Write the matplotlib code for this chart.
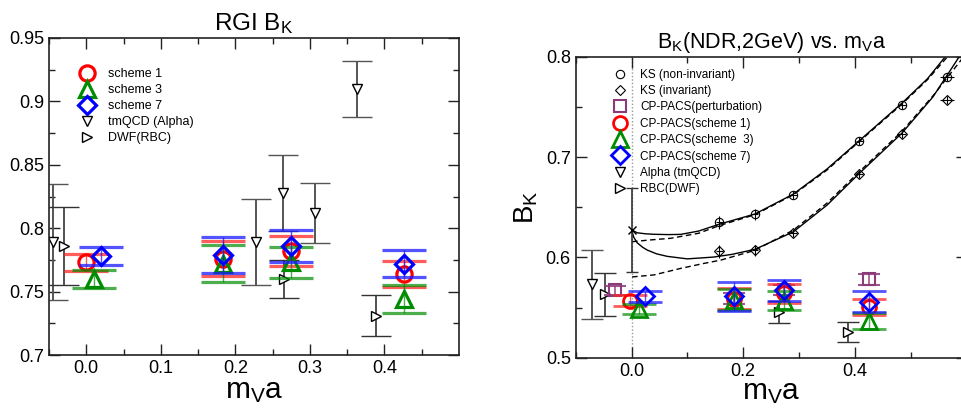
import matplotlib
matplotlib.use("Agg")
import matplotlib.pyplot as plt
from matplotlib.lines import Line2D
from matplotlib.ticker import FormatStrFormatter

plt.rcParams['font.family'] = ['Liberation Sans', 'DejaVu Sans']
plt.rcParams['mathtext.fontset'] = 'custom'
plt.rcParams['mathtext.rm'] = 'Liberation Sans'
plt.rcParams['mathtext.it'] = 'Liberation Sans'

# ---------------- Left panel data (RGI B_K) ----------------
s1_x = [0.000, 0.183, 0.275, 0.426]
s1_y = [0.773, 0.776, 0.782, 0.764]
s1_e = [0.007, 0.014, 0.012, 0.010]
s3_x = [0.010, 0.183, 0.275, 0.426]
s3_y = [0.760, 0.772, 0.773, 0.744]
s3_e = [0.007, 0.0145, 0.0125, 0.011]
s7_x = [0.020, 0.183, 0.275, 0.426]
s7_y = [0.778, 0.779, 0.786, 0.772]
s7_e = [0.007, 0.014, 0.0125, 0.0105]
tm_x = [-0.045, 0.228, 0.264, 0.307, 0.363]
tm_y = [0.789, 0.789, 0.828, 0.812, 0.910]
tm_e = [0.046, 0.034, 0.030, 0.024, 0.022]
dwf_x = [-0.030, 0.265, 0.388]
dwf_y = [0.786, 0.760, 0.731]
dwf_e = [0.031, 0.015, 0.016]

# ---------------- Right panel data (B_K NDR 2GeV) ----------------
ks_x = [0.157, 0.221, 0.290, 0.408, 0.484, 0.565]
ks_ni_y = [0.635, 0.643, 0.662, 0.7155, 0.752, 0.780]
ks_inv_y = [0.606, 0.607, 0.6245, 0.683, 0.723, 0.757]
ks_yerr = [0.0066, 0.0053, 0.004, 0.004, 0.004, 0.004]
ks_xerr = [0.006, 0.006, 0.006, 0.006, 0.007, 0.012]

chi_x = [0.0]
chi_y = [0.627]
chi_e = [0.042]

pt_x = [-0.030, 0.183, 0.273, 0.425]
pt_y = [0.567, 0.559, 0.567, 0.578]
pt_e = [0.0045, 0.005, 0.005, 0.0055]
r1_x = [-0.002, 0.183, 0.273, 0.425]
r1_y = [0.557, 0.559, 0.564, 0.551]
r1_e = [0.005, 0.010, 0.009, 0.008]
r3_x = [0.014, 0.183, 0.273, 0.425]
r3_y = [0.549, 0.558, 0.557, 0.537]
r3_e = [0.005, 0.010, 0.009, 0.008]
r7_x = [0.025, 0.183, 0.273, 0.425]
r7_y = [0.561, 0.561, 0.567, 0.556]
r7_e = [0.005, 0.014, 0.010, 0.010]
al_x = [-0.070]
al_y = [0.573]
al_e = [0.034]
rbc_x = [-0.048, 0.264, 0.387]
rbc_y = [0.563, 0.546, 0.526]
rbc_e = [0.021, 0.011, 0.010]

# fit curves
up_solid_x = [0.001, 0.010, 0.025, 0.040, 0.065, 0.088, 0.120, 0.158, 0.221, 0.290, 0.350, 0.408, 0.484, 0.530, 0.562]
up_solid_y = [0.6272, 0.6245, 0.6235, 0.6230, 0.6227, 0.6229, 0.6262, 0.6332, 0.6432, 0.6631, 0.6880, 0.7163, 0.7535, 0.7780, 0.800]
up_dash_x = [0.001, 0.030, 0.070, 0.120, 0.158, 0.221, 0.290, 0.350, 0.408, 0.484, 0.530, 0.566]
up_dash_y = [0.6156, 0.6172, 0.6190, 0.6240, 0.6318, 0.6425, 0.6625, 0.6870, 0.7155, 0.7525, 0.7770, 0.800]
lo_solid_x = [0.001, 0.004, 0.010, 0.020, 0.028, 0.045, 0.064, 0.100, 0.147, 0.180, 0.221, 0.290, 0.350, 0.408, 0.484, 0.540, 0.587]
lo_solid_y = [0.6255, 0.6200, 0.6146, 0.6100, 0.6073, 0.6035, 0.6010, 0.5985, 0.6003, 0.6030, 0.6080, 0.6255, 0.6520, 0.6837, 0.7236, 0.7600, 0.800]
lo_dash_x = [0.001, 0.040, 0.088, 0.130, 0.160, 0.221, 0.290, 0.350, 0.408, 0.484, 0.540, 0.595]
lo_dash_y = [0.5805, 0.5825, 0.5890, 0.5940, 0.5973, 0.6070, 0.6272, 0.6540, 0.6854, 0.7254, 0.7610, 0.800]

RED = '#ff0000'
GREEN = '#008c00'
BLUE = '#0000ff'
PURPLE = '#8b3a7a'
GRAY = '#555555'
RED_E = (1.0, 0.15, 0.15, 0.75)
GREEN_E = (0.0, 0.55, 0.0, 0.7)
BLUE_E = (0.1, 0.1, 1.0, 0.75)
PURPLE_E = (0.545, 0.227, 0.478, 0.85)

fig = plt.figure(figsize=(9.62, 4.08), dpi=100)

def style_axes(ax):
    ax.tick_params(which='both', direction='in', top=True, right=True, labelsize=13, width=1, color='#222222')
    ax.tick_params(which='major', length=8)
    ax.tick_params(which='minor', length=4)
    for s in ax.spines.values():
        s.set_linewidth(1.2)
        s.set_color('#222222')

# ---------------- Left panel ----------------
ax1 = fig.add_axes([49/962, 1-355/408, 410/962, 317/408])
ax1.errorbar(tm_x, tm_y, yerr=tm_e, fmt='v', ms=7, mfc='white', mec='black', mew=1,
             ecolor=GRAY, elinewidth=1.4, capsize=11, capthick=1.4, zorder=2)
ax1.errorbar(dwf_x, dwf_y, yerr=dwf_e, fmt='>', ms=7, mfc='white', mec='black', mew=1,
             ecolor='#333333', elinewidth=1.2, capsize=11, capthick=1.2, zorder=2)
ax1.errorbar(s1_x, s1_y, yerr=s1_e, fmt='o', ms=11, mfc='none', mec=RED, mew=2.3,
             ecolor=RED_E, elinewidth=1.0, capsize=16, capthick=1.0, zorder=3)
ax1.errorbar(s3_x, s3_y, yerr=s3_e, fmt='^', ms=12, mfc='none', mec=GREEN, mew=2.3,
             ecolor=GREEN_E, elinewidth=1.0, capsize=16, capthick=1.0, zorder=4)
ax1.errorbar(s7_x, s7_y, yerr=s7_e, fmt='D', ms=9, mfc='none', mec=BLUE, mew=2.3,
             ecolor=BLUE_E, elinewidth=1.0, capsize=16, capthick=1.0, zorder=5)
ax1.set_xlim(-0.05, 0.5)
ax1.set_ylim(0.7, 0.95)
ax1.set_xticks([0.0, 0.1, 0.2, 0.3, 0.4])
ax1.set_xticks([-0.05, 0.05, 0.15, 0.25, 0.35, 0.45], minor=True)
ax1.xaxis.set_major_formatter(FormatStrFormatter('%.1f'))
ax1.set_yticks([0.7, 0.75, 0.8, 0.85, 0.9, 0.95])
ax1.set_yticks([0.725, 0.775, 0.825, 0.875, 0.925], minor=True)
ax1.set_yticklabels(['0.7', '0.75', '0.8', '0.85', '0.9', '0.95'])
style_axes(ax1)
ax1.set_title(r'RGI B$_\mathrm{K}$', fontsize=17.5, pad=6)
ax1.set_xlabel(r'm$_\mathrm{V}$a', fontsize=21.5, labelpad=0)

h1 = [Line2D([], [], ls='none', marker='o', ms=11, mfc='none', mec=RED, mew=2.3),
      Line2D([], [], ls='none', marker='^', ms=12, mfc='none', mec=GREEN, mew=2.3),
      Line2D([], [], ls='none', marker='D', ms=9, mfc='none', mec=BLUE, mew=2.3),
      Line2D([], [], ls='none', marker='v', ms=7, mfc='white', mec='black', mew=1),
      Line2D([], [], ls='none', marker='>', ms=7, mfc='white', mec='black', mew=1)]
l1 = ['scheme 1', 'scheme 3', 'scheme 7', 'tmQCD (Alpha)', 'DWF(RBC)']
ax1.legend(h1, l1, loc='upper left', bbox_to_anchor=(0.078, 0.905), frameon=False,
           fontsize=9, handlelength=1.0, handletextpad=1.15, labelspacing=0.32,
           borderpad=0, borderaxespad=0)

# ---------------- Right panel ----------------
ax2 = fig.add_axes([575.7/962, 1-357.7/408, 390.8/962, 301/408])
ax2.axvline(0.0, color='#999999', lw=1, ls=(0, (1, 1.5)), zorder=1)
ax2.plot(up_solid_x, up_solid_y, color='black', lw=1, zorder=2)
ax2.plot(up_dash_x, up_dash_y, color='black', lw=1, ls=(0, (4, 2.5)), zorder=2)
ax2.plot(lo_solid_x, lo_solid_y, color='black', lw=1, zorder=2)
ax2.plot(lo_dash_x, lo_dash_y, color='black', lw=1, ls=(0, (4, 2.5)), zorder=2)
ax2.errorbar(chi_x, chi_y, yerr=chi_e, fmt='x', ms=6, mec='black', mew=1,
             ecolor='#333333', elinewidth=1.2, capsize=4, capthick=1, zorder=3)
ax2.errorbar(ks_x, ks_ni_y, yerr=ks_yerr, xerr=ks_xerr, fmt='o', ms=6, mfc='none', mec='black', mew=0.8,
             ecolor='black', elinewidth=0.8, capsize=0, zorder=3)
ax2.errorbar(ks_x, ks_inv_y, yerr=ks_yerr, xerr=ks_xerr, fmt='D', ms=5, mfc='none', mec='black', mew=0.8,
             ecolor='black', elinewidth=0.8, capsize=0, zorder=3)
ax2.errorbar(al_x, al_y, yerr=al_e, fmt='v', ms=7, mfc='white', mec='black', mew=1,
             ecolor=GRAY, elinewidth=1.4, capsize=8, capthick=1.4, zorder=3)
ax2.errorbar(rbc_x, rbc_y, yerr=rbc_e, fmt='>', ms=7, mfc='white', mec='black', mew=1,
             ecolor='#333333', elinewidth=1.2, capsize=8, capthick=1.2, zorder=3)
ax2.errorbar(pt_x, pt_y, yerr=pt_e, fmt='s', ms=9, mfc='none', mec=PURPLE, mew=1.5,
             ecolor=PURPLE_E, elinewidth=1.2, capsize=8, capthick=1.2, zorder=4)
ax2.errorbar(r1_x, r1_y, yerr=r1_e, fmt='o', ms=10, mfc='none', mec=RED, mew=2,
             ecolor=RED_E, elinewidth=1.0, capsize=12, capthick=1.0, zorder=5)
ax2.errorbar(r3_x, r3_y, yerr=r3_e, fmt='^', ms=11, mfc='none', mec=GREEN, mew=2,
             ecolor=GREEN_E, elinewidth=1.0, capsize=12, capthick=1.0, zorder=6)
ax2.errorbar(r7_x, r7_y, yerr=r7_e, fmt='D', ms=9, mfc='none', mec=BLUE, mew=2,
             ecolor=BLUE_E, elinewidth=1.0, capsize=12, capthick=1.0, zorder=7)
ax2.set_xlim(-0.1, 0.6)
ax2.set_ylim(0.5, 0.8)
ax2.set_xticks([0.0, 0.2, 0.4])
ax2.set_xticks([-0.1, 0.1, 0.3, 0.5], minor=True)
ax2.set_xticklabels(['0.0', '0.2', '0.4'])
ax2.set_yticks([0.5, 0.6, 0.7, 0.8])
ax2.set_yticks([0.55, 0.65, 0.75], minor=True)
ax2.set_yticklabels(['0.5', '0.6', '0.7', '0.8'])
style_axes(ax2)
ax2.set_title(r'B$_\mathrm{K}$(NDR,2GeV) vs. m$_\mathrm{V}$a', fontsize=15.5, pad=6)
ax2.set_xlabel(r'm$_\mathrm{V}$a', fontsize=21.5, labelpad=-1)
ax2.set_ylabel(r'B$_\mathrm{K}$', fontsize=20, labelpad=4)

h2 = [Line2D([], [], ls='none', marker='o', ms=6, mfc='none', mec='black', mew=0.8),
      Line2D([], [], ls='none', marker='D', ms=5, mfc='none', mec='black', mew=0.8),
      Line2D([], [], ls='none', marker='s', ms=9, mfc='none', mec=PURPLE, mew=1.5),
      Line2D([], [], ls='none', marker='o', ms=10, mfc='none', mec=RED, mew=2),
      Line2D([], [], ls='none', marker='^', ms=11, mfc='none', mec=GREEN, mew=2),
      Line2D([], [], ls='none', marker='D', ms=9, mfc='none', mec=BLUE, mew=2),
      Line2D([], [], ls='none', marker='v', ms=7, mfc='white', mec='black', mew=1),
      Line2D([], [], ls='none', marker='>', ms=7, mfc='white', mec='black', mew=1)]
l2 = ['KS (non-invariant)', 'KS (invariant)', 'CP-PACS(perturbation)', 'CP-PACS(scheme 1)',
      'CP-PACS(scheme  3)', 'CP-PACS(scheme 7)', 'Alpha (tmQCD)', 'RBC(DWF)']
ax2.legend(h2, l2, loc='upper left', bbox_to_anchor=(0.097, 0.96), frameon=False,
           fontsize=8.5, handlelength=1.0, handletextpad=1.25, labelspacing=0.37,
           borderpad=0, borderaxespad=0)

fig.savefig('out.png', dpi=100)
